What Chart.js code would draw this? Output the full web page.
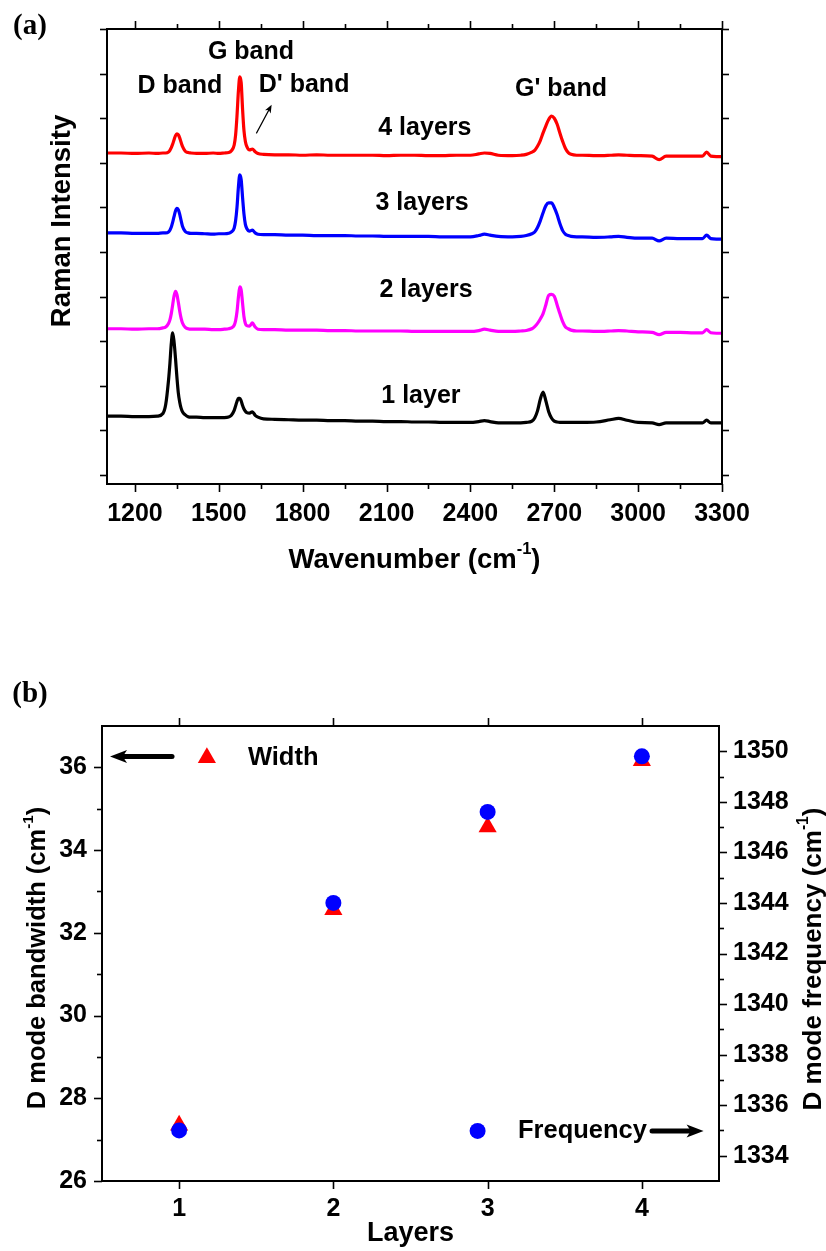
<!DOCTYPE html>
<html>
<head>
<meta charset="utf-8">
<script src="https://cdn.jsdelivr.net/npm/chart.js@4.4.0/dist/chart.umd.min.js"></script>
<style>
  body { margin: 0; background: #fff; }
  #wrap { position: relative; width: 826px; height: 1251px; }
  canvas { position: absolute; left: 0; }
  #chartA { top: 0; }
  #chartB { top: 640px; }
</style>
</head>
<body>
<div id="wrap">
  <canvas id="chartA" width="826" height="640"></canvas>
  <canvas id="chartB" width="826" height="611"></canvas>
</div>
<script>
// ---- panel (a): Raman spectra, intensity in arbitrary (offset) units ----
const wavenumber = [
  1100, 1150, 1200, 1250, 1280, 1300, 1310, 1320, 1325, 1330,
  1335, 1340, 1345, 1350, 1355, 1360, 1365, 1370, 1380, 1390,
  1400, 1420, 1450, 1480, 1500, 1520, 1535, 1545, 1555, 1560,
  1565, 1570, 1575, 1580, 1585, 1590, 1595, 1600, 1610, 1620,
  1630, 1640, 1660, 1700, 1750, 1800, 1850, 1900, 1950, 2000,
  2050, 2100, 2150, 2200, 2250, 2300, 2350, 2400, 2430, 2450,
  2470, 2500, 2550, 2580, 2600, 2620, 2630, 2640, 2650, 2660,
  2670, 2680, 2690, 2700, 2710, 2720, 2730, 2740, 2750, 2760,
  2780, 2800, 2850, 2900, 2930, 2960, 3000, 3050, 3075, 3100,
  3150, 3200, 3230, 3245, 3260, 3280, 3300
];
const layers4 = [
  7.22, 7.22, 7.21, 7.22, 7.21, 7.22, 7.22, 7.24, 7.28, 7.34,
  7.42, 7.52, 7.61, 7.65, 7.63, 7.56, 7.46, 7.37, 7.26, 7.23,
  7.22, 7.21, 7.21, 7.22, 7.21, 7.22, 7.23, 7.27, 7.40, 7.62,
  8.05, 8.60, 8.93, 8.80, 8.20, 7.72, 7.48, 7.37, 7.29, 7.31,
  7.25, 7.21, 7.19, 7.18, 7.18, 7.17, 7.18, 7.17, 7.17, 7.17,
  7.17, 7.16, 7.17, 7.17, 7.16, 7.16, 7.17, 7.17, 7.20, 7.22,
  7.21, 7.17, 7.16, 7.17, 7.19, 7.24, 7.28, 7.37, 7.50, 7.67,
  7.83, 7.97, 8.05, 8.00, 7.87, 7.67, 7.48, 7.32, 7.23, 7.19,
  7.17, 7.17, 7.16, 7.17, 7.18, 7.17, 7.16, 7.15, 7.07, 7.15,
  7.15, 7.15, 7.15, 7.24, 7.15, 7.14, 7.14
];
const layers3 = [
  5.43, 5.43, 5.42, 5.42, 5.42, 5.43, 5.43, 5.45, 5.49, 5.56,
  5.67, 5.80, 5.92, 5.98, 5.95, 5.85, 5.71, 5.58, 5.46, 5.43,
  5.42, 5.42, 5.41, 5.40, 5.41, 5.41, 5.42, 5.45, 5.54, 5.70,
  6.00, 6.45, 6.73, 6.62, 6.22, 5.85, 5.62, 5.53, 5.47, 5.49,
  5.43, 5.40, 5.39, 5.39, 5.38, 5.38, 5.37, 5.37, 5.37, 5.36,
  5.36, 5.35, 5.35, 5.35, 5.35, 5.34, 5.34, 5.34, 5.37, 5.40,
  5.38, 5.35, 5.34, 5.35, 5.37, 5.41, 5.45, 5.55, 5.70, 5.88,
  6.04, 6.10, 6.10, 6.00, 5.84, 5.64, 5.48, 5.40, 5.37, 5.35,
  5.34, 5.34, 5.33, 5.34, 5.35, 5.33, 5.31, 5.31, 5.25, 5.31,
  5.30, 5.30, 5.30, 5.38, 5.30, 5.29, 5.29
];
const layers2 = [
  3.28, 3.28, 3.27, 3.28, 3.28, 3.30, 3.32, 3.40, 3.48, 3.62,
  3.82, 4.02, 4.12, 4.05, 3.88, 3.68, 3.52, 3.41, 3.31, 3.28,
  3.27, 3.27, 3.27, 3.26, 3.26, 3.27, 3.28, 3.30, 3.36, 3.46,
  3.66, 3.98, 4.22, 4.15, 3.85, 3.55, 3.40, 3.35, 3.34, 3.41,
  3.32, 3.27, 3.26, 3.26, 3.25, 3.25, 3.25, 3.24, 3.24, 3.23,
  3.23, 3.23, 3.23, 3.22, 3.22, 3.22, 3.22, 3.22, 3.24, 3.27,
  3.25, 3.22, 3.22, 3.23, 3.24, 3.28, 3.33, 3.40, 3.50, 3.62,
  3.82, 4.03, 4.05, 4.01, 3.82, 3.62, 3.44, 3.32, 3.28, 3.25,
  3.23, 3.23, 3.22, 3.23, 3.24, 3.23, 3.21, 3.20, 3.15, 3.20,
  3.20, 3.19, 3.19, 3.26, 3.19, 3.18, 3.18
];
const layers1 = [
  1.32, 1.32, 1.31, 1.31, 1.32, 1.38, 1.58, 2.12, 2.50, 2.95,
  3.19, 2.98, 2.62, 2.20, 1.85, 1.64, 1.50, 1.42, 1.35, 1.31,
  1.30, 1.30, 1.29, 1.29, 1.29, 1.29, 1.30, 1.34, 1.45, 1.55,
  1.65, 1.72, 1.72, 1.66, 1.56, 1.48, 1.43, 1.40, 1.39, 1.42,
  1.34, 1.30, 1.26, 1.25, 1.24, 1.23, 1.23, 1.22, 1.22, 1.21,
  1.21, 1.20, 1.20, 1.19, 1.19, 1.18, 1.18, 1.18, 1.20, 1.22,
  1.20, 1.17, 1.17, 1.17, 1.18, 1.21, 1.28, 1.44, 1.70, 1.86,
  1.66, 1.42, 1.28, 1.21, 1.19, 1.18, 1.18, 1.18, 1.18, 1.18,
  1.18, 1.18, 1.19, 1.24, 1.27, 1.23, 1.18, 1.17, 1.13, 1.17,
  1.17, 1.17, 1.17, 1.23, 1.17, 1.17, 1.17
];
const spectraNames = ['4 layers', '3 layers', '2 layers', '1 layer'];
const spectraColors = ['#ff0000', '#0000ff', '#ff00ff', '#000000'];
const bandNames = ['D band', 'G band', "D' band", "G' band"];
const xTicksA = [1200, 1500, 1800, 2100, 2400, 2700, 3000, 3300];
const xMinorA = [1350, 1650, 1950, 2250, 2550, 2850, 3150];
const yTicksA = [0, 1, 2, 3, 4, 5, 6, 7, 8, 9, 10];

// ---- panel (b): D mode width and frequency vs layers ----
const layerCount = [1, 2, 3, 4];
const dWidth = [27.35, 32.56, 34.56, 36.16];
const dFreq = [1335.0, 1344.0, 1347.6, 1349.8];
const xTicksB = [1, 2, 3, 4];
const yTicksB = [26, 28, 30, 32, 34, 36];
const yMinorB = [27, 29, 31, 33, 35];
const y1TicksB = [1334, 1336, 1338, 1340, 1342, 1344, 1346, 1348, 1350];
const y1MinorB = [1335, 1337, 1339, 1341, 1343, 1345, 1347, 1349];

const SANS = '"Liberation Sans", Arial, Helvetica, sans-serif';
const SERIF = '"Liberation Serif", "Times New Roman", serif';
Chart.defaults.font.family = SANS;
Chart.defaults.font.weight = 'bold';
Chart.defaults.color = '#000';

// text with optional superscript pieces, centred on (x, y)
function richText(ctx, parts, x, y, rot, size, family) {
  ctx.save();
  ctx.translate(x, y);
  ctx.rotate(rot || 0);
  ctx.fillStyle = '#000';
  ctx.textBaseline = 'middle';
  ctx.textAlign = 'left';
  const fam = family || SANS;
  let total = 0;
  const widths = parts.map(p => {
    ctx.font = 'bold ' + (p[1] ? size * 0.6 : size) + 'px ' + fam;
    const w = ctx.measureText(p[0]).width;
    total += w;
    return w;
  });
  let cx = -total / 2;
  parts.forEach((p, i) => {
    ctx.font = 'bold ' + (p[1] ? size * 0.6 : size) + 'px ' + fam;
    ctx.fillText(p[0], cx, p[1] ? -size * 0.38 : 0);
    cx += widths[i];
  });
  ctx.restore();
}

function arrow(ctx, x0, y0, x1, y1, shaft, headLen, headHalf) {
  const ang = Math.atan2(y1 - y0, x1 - x0);
  const len = Math.hypot(x1 - x0, y1 - y0);
  ctx.save();
  ctx.translate(x0, y0);
  ctx.rotate(ang);
  ctx.fillStyle = '#000';
  ctx.strokeStyle = '#000';
  ctx.lineWidth = shaft;
  ctx.lineCap = 'round';
  ctx.beginPath();
  ctx.moveTo(0, 0);
  ctx.lineTo(len - headLen * 0.6, 0);
  ctx.stroke();
  ctx.beginPath();
  ctx.moveTo(len, 0);
  ctx.lineTo(len - headLen, -headHalf);
  ctx.lineTo(len - headLen * 0.75, 0);
  ctx.lineTo(len - headLen, headHalf);
  ctx.closePath();
  ctx.fill();
  ctx.restore();
}

// frame box + outward tick marks on every side
const framePlugin = {
  id: 'frame',
  afterDatasetsDraw(chart, args, opts) {
    const { ctx, chartArea: a } = chart;
    ctx.save();
    ctx.strokeStyle = '#000';
    ctx.lineWidth = 2;
    ctx.strokeRect(a.left, a.top, a.right - a.left, a.bottom - a.top);
    ctx.lineWidth = 1.6;
    (opts.marks || []).forEach(m => {
      const s = chart.scales[m.scale];
      m.values.forEach(v => {
        const p = Math.round(s.getPixelForValue(v)) + 0.5;
        ctx.beginPath();
        if (m.side === 'top') { ctx.moveTo(p, a.top); ctx.lineTo(p, a.top - m.len); }
        if (m.side === 'bottom') { ctx.moveTo(p, a.bottom); ctx.lineTo(p, a.bottom + m.len); }
        if (m.side === 'left') { ctx.moveTo(a.left, p); ctx.lineTo(a.left - m.len, p); }
        if (m.side === 'right') { ctx.moveTo(a.right, p); ctx.lineTo(a.right + m.len, p); }
        ctx.stroke();
      });
    });
    ctx.restore();
  }
};

const noGrid = { display: false, drawTicks: false };
const noBorder = { display: false };
const setTicks = vals => scale => { scale.ticks = vals.map(v => ({ value: v })); };

// ---------- chart (a) ----------
const annotA = {
  id: 'annotA',
  afterDraw(chart) {
    const { ctx, scales: { x, y }, chartArea: a } = chart;
    const X = v => x.getPixelForValue(v), Y = v => y.getPixelForValue(v);
    richText(ctx, [['(a)']], 30, 27, 0, 29, SERIF);
    richText(ctx, [['Wavenumber (cm'], ['-1', true], [')']], (a.left + a.right) / 2, 560, 0, 27.5);
    richText(ctx, [['Raman Intensity']], 62, 221, -Math.PI / 2, 27.5);
    // band labels
    const bandPos = [[1361, 8.72], [1615, 9.48], [1805, 8.74], [2724, 8.65]];
    bandNames.forEach((t, i) => richText(ctx, [[t]], X(bandPos[i][0]), Y(bandPos[i][1]), 0, 25));
    // layer labels
    const layerPos = [[2237, 7.78], [2227, 6.10], [2241, 4.15], [2223, 1.77]];
    spectraNames.forEach((t, i) => richText(ctx, [[t]], X(layerPos[i][0]), Y(layerPos[i][1]), 0, 25));
    arrow(ctx, X(1635), Y(7.67), X(1689), Y(8.30), 1.3, 8, 3.2);
  }
};

const spectra = [layers4, layers3, layers2, layers1];
new Chart(document.getElementById('chartA'), {
  type: 'line',
  data: {
    datasets: spectra.map((arr, i) => ({
      label: spectraNames[i],
      data: wavenumber.map((w, k) => ({ x: w, y: arr[k] })),
      borderColor: spectraColors[i],
      borderWidth: 3.2,
      pointRadius: 0,
      cubicInterpolationMode: 'monotone',
      fill: false
    }))
  },
  options: {
    responsive: false,
    animation: false,
    layout: { padding: { left: 0, right: 104, top: 29, bottom: 0 } },
    plugins: {
      legend: { display: false },
      tooltip: { enabled: false },
      frame: {
        marks: [
          { scale: 'x', side: 'bottom', values: xTicksA, len: 8 },
          { scale: 'x', side: 'bottom', values: xMinorA, len: 5 },
          { scale: 'x', side: 'top', values: xTicksA, len: 8 },
          { scale: 'x', side: 'top', values: xMinorA, len: 5 },
          { scale: 'y', side: 'left', values: yTicksA, len: 7 },
          { scale: 'y', side: 'right', values: yTicksA, len: 7 }
        ]
      }
    },
    scales: {
      x: {
        type: 'linear', min: 1100, max: 3300,
        afterBuildTicks: setTicks(xTicksA),
        ticks: { callback: v => String(v), padding: 15, maxRotation: 0, autoSkip: false, font: { size: 25, weight: 'bold' } },
        grid: noGrid, border: noBorder,
        afterFit: s => { s.height = 156; }
      },
      y: {
        min: -0.2, max: 10,
        afterBuildTicks: setTicks(yTicksA),
        ticks: { display: false },
        grid: noGrid, border: noBorder,
        afterFit: s => { s.width = 107; }
      }
    }
  },
  plugins: [framePlugin, annotA]
});

// ---------- chart (b) ----------
const annotB = {
  id: 'annotB',
  afterDraw(chart) {
    const { ctx, scales: { x, y, y1 }, chartArea: a } = chart;
    richText(ctx, [['(b)']], 30, 55, 0, 29, SERIF);
    richText(ctx, [['Layers']], (a.left + a.right) / 2, 594, 0, 27);
    richText(ctx, [['D mode bandwidth (cm'], ['-1', true], [')']], 38, 318, -Math.PI / 2, 25.5);
    richText(ctx, [['D mode frequency (cm'], ['-1', true], [')']], 814, 319, -Math.PI / 2, 26);
    // legend: Width (left axis)
    const wy = y.getPixelForValue(36.23);
    const tx = x.getPixelForValue(1.18);
    ctx.save();
    ctx.fillStyle = '#ff0000';
    ctx.beginPath();
    ctx.moveTo(tx, wy - 10.5);
    ctx.lineTo(tx + 9.1, wy + 5.25);
    ctx.lineTo(tx - 9.1, wy + 5.25);
    ctx.closePath();
    ctx.fill();
    ctx.restore();
    ctx.save();
    ctx.font = 'bold 25.5px ' + SANS;
    ctx.textBaseline = 'middle';
    ctx.fillStyle = '#000';
    ctx.fillText('Width', x.getPixelForValue(1.446), wy);
    ctx.restore();
    arrow(ctx, x.getPixelForValue(0.954), y.getPixelForValue(36.26), x.getPixelForValue(0.552), y.getPixelForValue(36.26), 5, 17, 6.5);
    // legend: Frequency (right axis)
    const fy = y1.getPixelForValue(1334.98);
    ctx.save();
    ctx.fillStyle = '#0000ff';
    ctx.beginPath();
    ctx.arc(x.getPixelForValue(2.935), fy, 8, 0, Math.PI * 2);
    ctx.fill();
    ctx.font = 'bold 25.5px ' + SANS;
    ctx.textBaseline = 'middle';
    ctx.fillStyle = '#000';
    ctx.fillText('Frequency', x.getPixelForValue(3.197), fy);
    ctx.restore();
    arrow(ctx, x.getPixelForValue(4.066), fy, x.getPixelForValue(4.40), fy, 5, 17, 6.5);
  }
};

new Chart(document.getElementById('chartB'), {
  type: 'scatter',
  data: {
    datasets: [
      {
        label: 'Frequency',
        data: layerCount.map((l, i) => ({ x: l, y: dFreq[i] })),
        yAxisID: 'y1',
        pointStyle: 'circle',
        pointRadius: 8,
        pointBackgroundColor: '#0000ff',
        pointBorderColor: '#0000ff',
        pointBorderWidth: 0
      },
      {
        label: 'Width',
        data: layerCount.map((l, i) => ({ x: l, y: dWidth[i] })),
        yAxisID: 'y',
        pointStyle: 'triangle',
        pointRadius: 10.5,
        pointBackgroundColor: '#ff0000',
        pointBorderColor: '#ff0000',
        pointBorderWidth: 0
      }
    ]
  },
  options: {
    responsive: false,
    animation: false,
    layout: { padding: { left: 0, right: 0, top: 86, bottom: 0 } },
    plugins: {
      legend: { display: false },
      tooltip: { enabled: false },
      frame: {
        marks: [
          { scale: 'x', side: 'bottom', values: xTicksB, len: 8 },
          { scale: 'x', side: 'top', values: xTicksB, len: 8 },
          { scale: 'y', side: 'left', values: yTicksB, len: 8 },
          { scale: 'y', side: 'left', values: yMinorB, len: 5 },
          { scale: 'y1', side: 'right', values: y1TicksB, len: 8 },
          { scale: 'y1', side: 'right', values: y1MinorB, len: 5 }
        ]
      }
    },
    scales: {
      x: {
        type: 'linear', min: 0.5, max: 4.5,
        afterBuildTicks: setTicks(xTicksB),
        ticks: { callback: v => String(v), padding: 13, maxRotation: 0, font: { size: 25, weight: 'bold' } },
        grid: noGrid, border: noBorder,
        afterFit: s => { s.height = 70; }
      },
      y: {
        position: 'left', min: 26, max: 37,
        afterBuildTicks: setTicks(yTicksB),
        ticks: { callback: v => String(v), padding: 15, font: { size: 25, weight: 'bold' } },
        grid: noGrid, border: noBorder,
        afterFit: s => { s.width = 102; }
      },
      y1: {
        position: 'right', min: 1333, max: 1351,
        afterBuildTicks: setTicks(y1TicksB),
        ticks: { callback: v => String(v), padding: 14, font: { size: 25, weight: 'bold' } },
        grid: noGrid, border: noBorder,
        afterFit: s => { s.width = 107; }
      }
    }
  },
  plugins: [framePlugin, annotB]
});
</script>
</body>
</html>
